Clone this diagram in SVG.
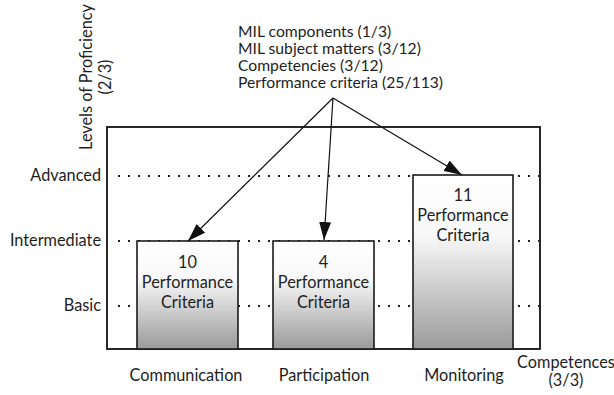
<svg xmlns="http://www.w3.org/2000/svg" width="614" height="395" viewBox="0 0 614 395">
  <defs>
    <linearGradient id="barFill" x1="0" y1="0" x2="0" y2="1">
      <stop offset="0" stop-color="#ffffff"/>
      <stop offset="0.35" stop-color="#f8f8f8"/>
      <stop offset="1" stop-color="#9a9a9a"/>
    </linearGradient>
    <marker id="head" viewBox="0 0 18 12" refX="18" refY="6" markerWidth="18" markerHeight="12" markerUnits="userSpaceOnUse" orient="auto">
      <path d="M0,0 L18,6 L0,12 Z" fill="#111"/>
    </marker>
  </defs>
  <style>
    text { font-family: Lato, "Open Sans", "Liberation Sans", sans-serif; fill: #1e1e1e; font-size: 16.3px; }
    .src { font-size: 15.7px; }
    .mid { text-anchor: middle; }
    .end { text-anchor: end; }
    .dots { stroke: #222; stroke-width: 2; stroke-dasharray: 2 8; fill: none; }
    .frame { fill: #fff; stroke: #111; stroke-width: 1.8; }
    .bar { fill: url(#barFill); stroke: #1a1a1a; stroke-width: 1.6; }
    .conn { stroke: #111; stroke-width: 1.2; fill: none; marker-end: url(#head); }
  </style>

  <!-- axis titles -->
  <g id="axis-y">
    <text class="mid" transform="translate(92,77) rotate(-90)">Levels of Proficiency</text>
    <text class="mid" transform="translate(111,77) rotate(-90)">(2/3)</text>
  </g>
  <g id="axis-x">
    <text class="mid" x="566" y="368">Competences</text>
    <text class="mid" x="566" y="386">(3/3)</text>
  </g>

  <!-- chart frame with proficiency levels -->
  <g id="chart">
    <rect class="frame" x="107" y="127" width="433" height="222"/>
    <path class="dots" d="M118,176 H540 M118,241 H540 M118,306 H540"/>
    <text class="end" x="101" y="181">Advanced</text>
    <text class="end" x="101" y="246">Intermediate</text>
    <text class="end" x="101" y="311">Basic</text>
  </g>

  <!-- source description -->
  <g id="source">
    <text class="src" x="238" y="37">MIL components (1/3)</text>
    <text class="src" x="238" y="54">MIL subject matters (3/12)</text>
    <text class="src" x="238" y="71">Competencies (3/12)</text>
    <text class="src" x="238" y="88">Performance criteria (25/113)</text>
  </g>

  <!-- competence bars -->
  <g id="communication">
    <rect class="bar" x="137" y="241" width="101" height="108"/>
    <text class="mid" x="187.5" y="268">10</text>
    <text class="mid" x="187.5" y="288">Performance</text>
    <text class="mid" x="187.5" y="308">Criteria</text>
    <text class="mid" x="186" y="381">Communication</text>
  </g>
  <g id="participation">
    <rect class="bar" x="273" y="241" width="101" height="108"/>
    <text class="mid" x="323.5" y="268">4</text>
    <text class="mid" x="323.5" y="288">Performance</text>
    <text class="mid" x="323.5" y="308">Criteria</text>
    <text class="mid" x="324" y="381">Participation</text>
  </g>
  <g id="monitoring">
    <rect class="bar" x="413" y="175" width="100" height="174"/>
    <text class="mid" x="463" y="201">11</text>
    <text class="mid" x="463" y="221">Performance</text>
    <text class="mid" x="463" y="241">Criteria</text>
    <text class="mid" x="464" y="381">Monitoring</text>
  </g>

  <!-- connectors -->
  <g id="connectors">
    <path class="conn" d="M333,98 L188,241"/>
    <path class="conn" d="M333,98 L324,240"/>
    <path class="conn" d="M333,98 L462,175"/>
  </g>
</svg>
